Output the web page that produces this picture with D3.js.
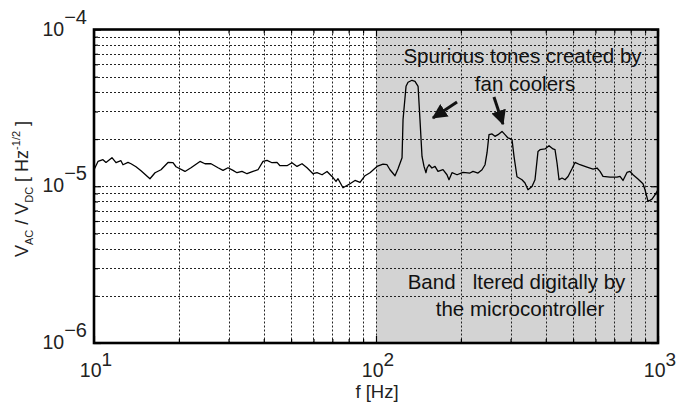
<!DOCTYPE html>
<html>
<head>
<meta charset="utf-8">
<script src="https://cdn.jsdelivr.net/npm/d3@7"></script>
<style>
  html, body { margin: 0; padding: 0; background: #fff; }
  svg { display: block; font-family: "Liberation Sans", Arial, Helvetica, sans-serif; }
</style>
</head>
<body>
<svg id="chart" width="677" height="405"></svg>
<script>
// Relative voltage noise spectral density, V_AC / V_DC per sqrt(Hz)
const freqHz = [
  10.00, 10.33, 10.76, 11.03, 11.58, 11.97, 12.46, 12.67, 13.20, 13.53,
  14.09, 14.68, 15.79, 16.46, 17.28, 18.30, 19.06, 19.54, 21.02, 22.08,
  23.76, 24.75, 26.00, 27.53, 28.68, 29.87, 31.11, 32.14, 33.48, 34.88,
  36.63, 38.16, 39.75, 41.07, 42.78, 44.57, 45.66, 48.34, 50.36, 52.47,
  54.66, 56.94, 59.80, 61.79, 64.37, 67.05, 69.82, 72.14, 73.33, 76.38,
  80.87, 84.24, 87.78, 91.42, 95.22, 100.8, 105.9, 109.4, 112.1, 116.8,
  119.7, 123.7, 124.7, 127.8, 129.9, 134.2, 137.5, 141.0, 143.2, 145.6,
  148.0, 150.4, 151.7, 154.2, 157.9, 161.9, 165.9, 172.8, 178.5, 181.5,
  186.0, 193.8, 203.5, 215.4, 220.8, 230.0, 237.7, 243.6, 247.6, 251.6,
  257.9, 264.2, 270.8, 279.8, 286.7, 293.8, 298.7, 303.6, 308.6, 316.2,
  329.4, 337.6, 345.9, 357.4, 366.3, 375.4, 381.6, 397.4, 410.7, 424.4,
  431.3, 438.5, 445.7, 456.7, 468.0, 479.8, 495.5, 507.8, 529.0, 560.1,
  588.3, 607.8, 622.9, 638.3, 675.8, 715.5, 733.3, 751.4, 776.3, 795.6,
  815.3, 849.3, 884.7, 899.3, 921.6, 952.1, 975.8, 1000
];
const noiseAsd = [
  1.275e-5, 1.440e-5, 1.477e-5, 1.419e-5, 1.521e-5, 1.413e-5, 1.455e-5, 1.372e-5, 1.419e-5, 1.392e-5,
  1.332e-5, 1.256e-5, 1.117e-5, 1.220e-5, 1.275e-5, 1.419e-5, 1.413e-5, 1.332e-5, 1.243e-5, 1.313e-5,
  1.440e-5, 1.392e-5, 1.392e-5, 1.313e-5, 1.262e-5, 1.313e-5, 1.262e-5, 1.220e-5, 1.243e-5, 1.202e-5,
  1.243e-5, 1.275e-5, 1.440e-5, 1.462e-5, 1.413e-5, 1.419e-5, 1.352e-5, 1.352e-5, 1.413e-5, 1.338e-5,
  1.392e-5, 1.313e-5, 1.202e-5, 1.220e-5, 1.184e-5, 1.243e-5, 1.155e-5, 1.073e-5, 1.117e-5, 0.978e-5,
  1.038e-5, 1.089e-5, 1.057e-5, 1.167e-5, 1.220e-5, 1.338e-5, 1.386e-5, 1.372e-5, 1.275e-5, 1.167e-5,
  1.294e-5, 1.521e-5, 2.660e-5, 4.342e-5, 4.606e-5, 4.743e-5, 4.673e-5, 4.342e-5, 2.660e-5, 1.550e-5,
  1.338e-5, 1.220e-5, 1.307e-5, 1.372e-5, 1.307e-5, 1.338e-5, 1.243e-5, 1.275e-5, 1.184e-5, 1.100e-5,
  1.220e-5, 1.184e-5, 1.225e-5, 1.214e-5, 1.243e-5, 1.214e-5, 1.275e-5, 1.372e-5, 1.637e-5, 2.133e-5,
  2.155e-5, 2.081e-5, 2.133e-5, 2.239e-5, 2.133e-5, 2.032e-5, 2.012e-5, 1.982e-5, 1.550e-5, 1.150e-5,
  1.100e-5, 1.048e-5, 0.950e-5, 0.997e-5, 1.100e-5, 1.669e-5, 1.711e-5, 1.729e-5, 1.815e-5, 1.729e-5,
  1.711e-5, 1.407e-5, 1.100e-5, 1.128e-5, 1.100e-5, 1.155e-5, 1.294e-5, 1.419e-5, 1.372e-5, 1.326e-5,
  1.288e-5, 1.307e-5, 1.243e-5, 1.155e-5, 1.145e-5, 1.145e-5, 1.155e-5, 1.089e-5, 1.225e-5, 1.243e-5,
  1.184e-5, 1.112e-5, 1.038e-5, 0.950e-5, 0.800e-5, 0.828e-5, 0.882e-5, 0.950e-5
];

// Axis ranges and labelled decades
const xDomain = [10, 1000];
const yDomain = [1e-6, 1e-4];
const xTickExponents = [1, 2, 3];
const yTickExponents = [-6, -5, -4];

// Digitally filtered band
const filteredBand = [100, 1000];

// Annotation text and arrow endpoints [f, value]
const toneLabel = ["Spurious tones created by", "fan coolers"];
const bandLabel = ["Band   ltered digitally by", "the microcontroller"];
const toneArrows = [
  { from: [193.8, 3.45e-5], to: [159.2, 2.73e-5] },
  { from: [262.0, 3.71e-5], to: [282.0, 2.49e-5] }
];

const plotLeft = 94, plotRight = 658, plotTop = 29.5, plotBottom = 343;

const svg = d3.select("#chart");
const x = d3.scaleLog().domain(xDomain).range([plotLeft, plotRight]);
const y = d3.scaleLog().domain(yDomain).range([plotBottom, plotTop]);

// Shaded band
svg.append("rect")
  .attr("x", x(filteredBand[0]))
  .attr("y", plotTop)
  .attr("width", x(filteredBand[1]) - x(filteredBand[0]))
  .attr("height", plotBottom - plotTop)
  .attr("fill", "#d3d3d3");

// Dotted grid at every log tick
const xGrid = x.ticks().filter(v => v > xDomain[0] && v < xDomain[1]);
const yGrid = y.ticks().filter(v => v > yDomain[0] * 1.0001 && v < yDomain[1] * 0.9999);
const grid = svg.append("g")
  .attr("stroke", "#222")
  .attr("stroke-width", 1)
  .attr("stroke-dasharray", "2,2")
  .attr("fill", "none");
grid.selectAll("line.v").data(xGrid).join("line")
  .attr("class", "v")
  .attr("x1", d => Math.round(x(d)) + 0.5).attr("x2", d => Math.round(x(d)) + 0.5)
  .attr("y1", plotTop).attr("y2", plotBottom);
grid.selectAll("line.h").data(yGrid).join("line")
  .attr("class", "h")
  .attr("x1", plotLeft).attr("x2", plotRight)
  .attr("y1", d => Math.round(y(d)) + 0.5).attr("y2", d => Math.round(y(d)) + 0.5);

// Spectrum trace
const series = freqHz.map((f, i) => [f, noiseAsd[i]]);
svg.append("path")
  .datum(series)
  .attr("fill", "none")
  .attr("stroke", "#000")
  .attr("stroke-width", 1.3)
  .attr("stroke-linejoin", "round")
  .attr("d", d3.line().x(d => x(d[0])).y(d => y(d[1])));

// Inward ticks on all four sides
const isMajor = v => Math.abs(Math.log10(v) - Math.round(Math.log10(v))) < 1e-6;
function tickAxis(axisFn, scale, transform) {
  const g = svg.append("g").attr("transform", transform)
    .call(axisFn(scale).tickValues(scale.ticks()).tickFormat("").tickSizeOuter(0).tickSizeInner(-4));
  g.select(".domain").remove();
  g.selectAll(".tick line")
    .attr("stroke", "#000")
    .attr("stroke-width", 1.2)
    .each(function (d) {
      const s = d3.select(this);
      const len = isMajor(d) ? 7 : 4;
      if (s.attr("x2") !== null && +s.attr("x2") !== 0) s.attr("x2", Math.sign(+s.attr("x2")) * len);
      if (s.attr("y2") !== null && +s.attr("y2") !== 0) s.attr("y2", Math.sign(+s.attr("y2")) * len);
    });
  return g;
}
tickAxis(d3.axisBottom, x, `translate(0,${plotBottom})`);
tickAxis(d3.axisTop, x, `translate(0,${plotTop})`);
tickAxis(d3.axisLeft, y, `translate(${plotLeft},0)`);
tickAxis(d3.axisRight, y, `translate(${plotRight},0)`);

// Axes frame
svg.append("rect")
  .attr("x", plotLeft).attr("y", plotTop)
  .attr("width", plotRight - plotLeft).attr("height", plotBottom - plotTop)
  .attr("fill", "none")
  .attr("stroke", "#000")
  .attr("stroke-width", 2.6);

// Tick labels as powers of ten
const tickFont = 19.5;
svg.append("g").selectAll("text").data(xTickExponents).join("text")
  .attr("x", d => x(Math.pow(10, d)) + 2)
  .attr("y", 377)
  .attr("text-anchor", "middle")
  .attr("font-size", tickFont)
  .attr("fill", "#222")
  .each(function (d) {
    const t = d3.select(this);
    t.append("tspan").text("10");
    t.append("tspan").attr("dy", -11).attr("font-size", 19).text(String(d));
  });

svg.append("g").selectAll("text").data(yTickExponents).join("text")
  .attr("x", 87)
  .attr("y", d => y(Math.pow(10, d)) + 6)
  .attr("text-anchor", "end")
  .attr("font-size", tickFont)
  .attr("fill", "#222")
  .each(function (d) {
    const t = d3.select(this);
    t.append("tspan").text("10");
    t.append("tspan").attr("dy", -12).attr("font-size", 20).text("\u2212" + Math.abs(d));
  });

// Axis titles
svg.append("text")
  .attr("x", (plotLeft + plotRight) / 2 + 1)
  .attr("y", 398)
  .attr("text-anchor", "middle")
  .attr("font-size", 18.5)
  .attr("fill", "#222")
  .text("f [Hz]");

const yTitle = svg.append("text")
  .attr("transform", "translate(28,189) rotate(-90)")
  .attr("text-anchor", "middle")
  .attr("font-size", 18)
  .attr("fill", "#222");
yTitle.append("tspan").text("V");
yTitle.append("tspan").attr("font-size", 11).attr("dy", 5).text("AC");
yTitle.append("tspan").attr("dy", -5).text(" / V");
yTitle.append("tspan").attr("font-size", 11).attr("dy", 5).text("DC");
yTitle.append("tspan").attr("dy", -5).text(" [ Hz");
yTitle.append("tspan").attr("font-size", 11).attr("dy", -8).text("-1/2");
yTitle.append("tspan").attr("dy", 8).text(" ]");

// Annotations
const annFont = 20.5;
svg.append("g").selectAll("text").data(toneLabel).join("text")
  .attr("x", (d, i) => [522.5, 525][i])
  .attr("y", (d, i) => [63, 91][i])
  .attr("text-anchor", "middle")
  .attr("font-size", annFont)
  .attr("fill", "#111")
  .text(d => d);

svg.append("g").selectAll("text").data(bandLabel).join("text")
  .attr("x", (d, i) => [516.5, 520][i])
  .attr("y", (d, i) => [289, 316][i])
  .attr("text-anchor", "middle")
  .attr("font-size", annFont)
  .attr("fill", "#111")
  .style("white-space", "pre")
  .text(d => d);

// Arrows toward the spurious tones
svg.append("defs").append("marker")
  .attr("id", "head")
  .attr("markerUnits", "userSpaceOnUse")
  .attr("viewBox", "0 0 12 12")
  .attr("refX", 11).attr("refY", 6)
  .attr("markerWidth", 15).attr("markerHeight", 15)
  .attr("orient", "auto")
  .append("path")
  .attr("d", "M0,0 L12,6 L0,12 Z")
  .attr("fill", "#111");

svg.append("g").selectAll("line").data(toneArrows).join("line")
  .attr("x1", d => x(d.from[0])).attr("y1", d => y(d.from[1]))
  .attr("x2", d => x(d.to[0])).attr("y2", d => y(d.to[1]))
  .attr("stroke", "#111")
  .attr("stroke-width", 3)
  .attr("marker-end", "url(#head)");
</script>
</body>
</html>
